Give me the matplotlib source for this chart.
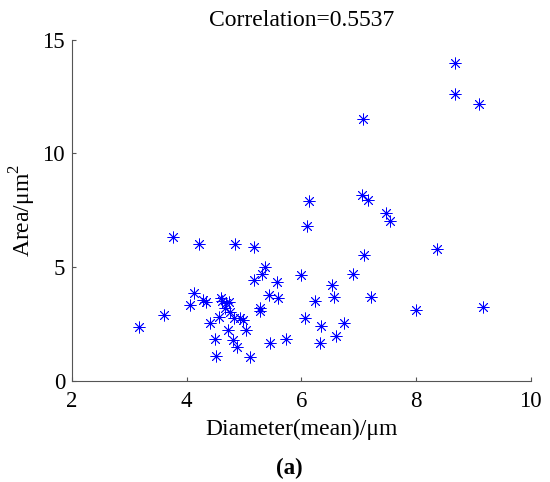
import matplotlib
matplotlib.use("Agg")
import matplotlib.pyplot as plt

# values
diameter = [8.68, 8.68, 9.10, 7.08, 7.06, 7.16, 6.14, 7.47, 7.54, 6.09,
            3.76, 4.21, 4.85, 5.18, 8.36, 7.10, 5.37, 6.00, 5.31, 6.90,
            5.17, 5.58, 6.53, 4.12, 5.43, 5.60, 6.57, 7.21, 4.60, 4.28,
            4.34, 4.62, 4.68, 4.74, 6.23, 4.05, 4.66, 5.28, 9.17, 8.00,
            5.28, 4.76, 3.60, 4.57, 4.82, 4.93, 4.99, 6.06, 4.41, 6.75,
            6.34, 3.17, 4.72, 5.03, 6.61, 4.50, 5.73, 4.81, 5.46, 6.32,
            4.88, 4.51, 5.10]
area = [13.95, 12.59, 12.18, 11.49, 8.15, 7.96, 7.90, 7.39, 7.04, 6.81,
        6.31, 6.02, 6.03, 5.90, 5.80, 5.51, 5.00, 4.66, 4.71, 4.70,
        4.45, 4.34, 4.19, 3.86, 3.76, 3.66, 3.68, 3.70, 3.66, 3.54,
        3.48, 3.50, 3.41, 3.45, 3.51, 3.35, 3.22, 3.22, 3.24, 3.10,
        3.06, 3.03, 2.88, 2.81, 2.78, 2.76, 2.69, 2.77, 2.54, 2.54,
        2.42, 2.37, 2.25, 2.22, 1.99, 1.83, 1.83, 1.79, 1.64, 1.64,
        1.49, 1.08, 1.03]
x_ticks = [2, 4, 6, 8, 10]
y_ticks = [0, 5, 10, 15]

plt.rcParams['font.family'] = ['Liberation Serif', 'DejaVu Serif']
plt.rcParams['mathtext.fontset'] = 'custom'
plt.rcParams['mathtext.rm'] = 'Liberation Serif'

fig = plt.figure(figsize=(5.5, 4.82), dpi=100)
ax = fig.add_axes([0.131, 0.210, 0.834, 0.708])

ax.plot(diameter, area, linestyle='none', marker=(8, 2, 0),
        markersize=8.5, markeredgewidth=0.6, color='#0000FF')

ax.set_xlim(2, 10)
ax.set_ylim(0, 15)
ax.set_xticks(x_ticks)
ax.set_yticks(y_ticks)

ax.spines['top'].set_visible(False)
ax.spines['right'].set_visible(False)
for s in ('left', 'bottom'):
    ax.spines[s].set_color('#555555')
    ax.spines[s].set_linewidth(0.8)
ax.tick_params(direction='in', length=3, width=0.8, color='#555555',
               labelsize=16.5, labelcolor='black')
ax.tick_params(axis='x', pad=7)
ax.tick_params(axis='y', pad=5)

ax.set_title('Correlation=0.5537', fontsize=17, pad=10)
ax.set_xlabel('Diameter(mean)/μm', fontsize=17, labelpad=5.5)
ax.set_ylabel('Area/μm$^2$', fontsize=17, labelpad=3)

fig.text(0.526, 0.028, '(a)', ha='center', va='center',
         fontsize=16.5, fontweight='bold')

fig.savefig('out.png', dpi=100)
